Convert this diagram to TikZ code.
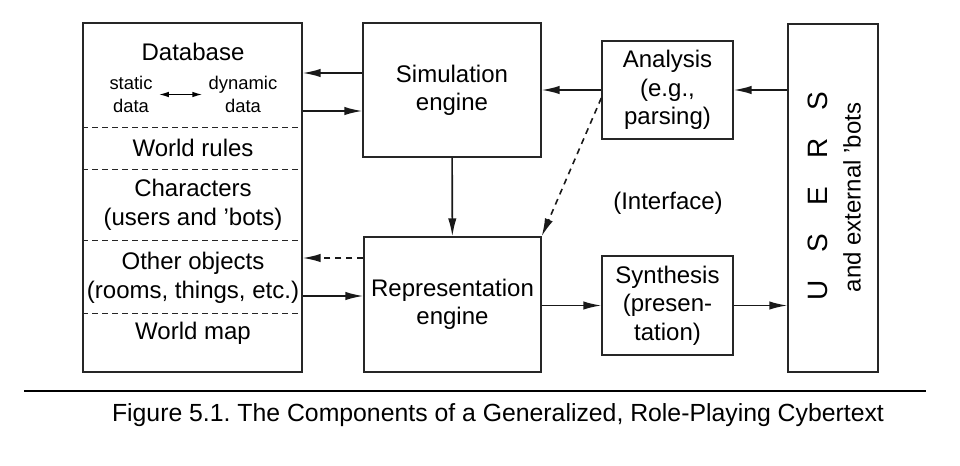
\documentclass[tikz,border=0pt]{standalone}
\usepackage{fontspec}
\setmainfont{Liberation Sans}
\usetikzlibrary{arrows.meta}
\frenchspacing
\begin{document}
\begin{tikzpicture}[x=.5pt,y=-.5pt,
	box/.style={draw=black!85,line width=.7pt,inner sep=0pt,align=center,font=\fontsize{12}{14.2}\selectfont},
	txt/.style={align=center,inner sep=0pt,font=\fontsize{12}{14.6}\selectfont},
	small/.style={align=center,inner sep=3pt,font=\fontsize{9.2}{11.5}\selectfont},
	sep/.style={draw=black!85,line width=.5pt,dash pattern=on 3pt off 2pt},
	arr/.style={draw=black!90,line width=.8pt,-{Latex[length=9pt,width=4.2pt]}},
	dbl/.style={line width=.7pt,{Latex[length=5pt,width=2.8pt]}-{Latex[length=5pt,width=2.8pt]}}]
\useasboundingbox (0,0) rectangle (960,466);
\path
	(192.5,197.5) node [box,minimum width=109.5pt,minimum height=174.5pt] (db) {}
	(452,90) node [box,minimum width=89pt,minimum height=67pt] (sim) {Simulation\\engine}
	(452.5,304.5) node [box,minimum width=88.5pt,minimum height=67.5pt] (rep) {Representation\\engine}
	(667.5,90) node [box,minimum width=65.5pt,minimum height=49pt] (ana) {Analysis\\(e.g.,\\parsing)}
	(667.5,305.5) node [box,minimum width=65.5pt,minimum height=49.5pt] (syn) {Synthesis\\(presen-\\tation)}
	(833,198) node [box,minimum width=45pt,minimum height=174pt] (users) {};
\foreach \y in {127,169,240,313}{\draw[sep] (db.west |- 0,\y) -- (db.east |- 0,\y);}
\path
	(193,52) node [txt] (base) {Database}
	(131,94.5) node [small] (st) {static\\data}
	(243,94.5) node [small] (dy) {dynamic\\data}
	(193,148) node [txt] (rules) {World rules}
	(193,204.5) node [txt] (chars) {Characters\\(users and 'bots)}
	(193,278) node [txt] (objs) {Other objects\\(rooms, things, etc.)}
	(193,333) node [txt] (wmap) {World map}
	(668,203) node [txt] (iface) {(Interface)}
	(818,196) node [rotate=90,inner sep=0pt,font=\fontsize{14}{16}\selectfont] (uname) {U\quad S\quad E\quad R\quad S}
	(852,197.5) node [rotate=90,inner sep=0pt,font=\fontsize{12}{14}\selectfont] (bots) {and external 'bots};
\draw[dbl] (st) -- (dy);
\draw[arr] (sim.west |- 0,73) -- (db.east |- 0,73);
\draw[arr] (db.east |- 0,111) -- (sim.west |- 0,111);
\draw[arr,dash pattern=on 3pt off 2.5pt] (rep.west |- 0,258) -- (db.east |- 0,258);
\draw[arr] (db.east |- 0,296) -- (rep.west |- 0,296);
\draw[arr] (sim) -- (rep);
\draw[arr] (ana.west) -- (sim.east);
\draw[arr] (users.west |- ana.west) -- (ana.east);
\draw[arr,dash pattern=on 3pt off 2.5pt] (ana.west |- 0,98) -- (rep.north east);
\draw[arr] (rep.east |- syn.west) -- (syn.west);
\draw[arr] (syn.east) -- (users.west |- syn.east);
\draw[line width=1.2pt] (24,391) -- (926,391);
\node [inner sep=0pt,font=\fontsize{12.4}{14}\selectfont] (cap) at (498,415) {Figure 5.1. The Components of a Generalized, Role-Playing Cybertext};
\end{tikzpicture}
\end{document}
